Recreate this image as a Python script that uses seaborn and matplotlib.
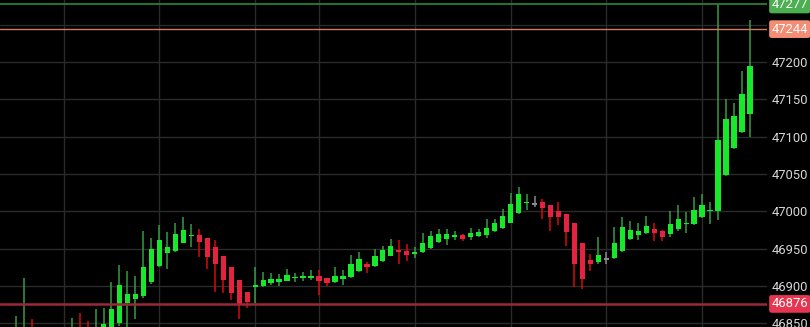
import numpy as np
import pandas as pd
import matplotlib
matplotlib.use("Agg")
import matplotlib.pyplot as plt
import matplotlib.transforms as mtransforms
import seaborn as sns

# ---- data ----
opens = [46815, 46820, 46838, 46822, 46812, 46825, 46818, 46825, 46838, 46822,
         46815, 46830, 46832, 46850, 46877, 46882, 46886, 46905, 46927, 46944,
         46947, 46958, 46967, 46968, 46964, 46952, 46940, 46925, 46908, 46892,
         46898, 46900, 46904, 46906, 46907, 46911, 46911, 46911, 46913, 46911,
         46906, 46909, 46912, 46920, 46929, 46927, 46933, 46940, 46948, 46947,
         46944, 46945, 46951, 46959, 46963, 46966, 46968, 46966, 46967, 46968,
         46973, 46978, 46985, 46998, 47011, 47010, 47012, 47008, 47001, 46997,
         46985, 46958, 46935, 46932, 46936, 46937, 46947, 46963, 46968, 46971,
         46976, 46974, 46970, 46976, 46983, 46983, 46992, 47000, 47000, 47048,
         47085, 47106, 47131]
highs = [46860, 46911, 46856, 46840, 46838, 46842, 46840, 46857, 46864, 46853,
         46869, 46870, 46905, 46928, 46920, 46913, 46973, 46964, 46982, 46972,
         46985, 46993, 46983, 46977, 46964, 46961, 46940, 46925, 46908, 46892,
         46926, 46919, 46918, 46916, 46923, 46918, 46919, 46921, 46922, 46911,
         46925, 46921, 46941, 46946, 46932, 46950, 46954, 46963, 46962, 46956,
         46952, 46971, 46974, 46976, 46976, 46974, 46970, 46978, 46976, 46990,
         46990, 47003, 47025, 47032, 47023, 47020, 47017, 47008, 47012, 46997,
         46985, 46958, 46943, 46965, 46945, 46979, 46992, 46987, 46985, 46994,
         46985, 46975, 47000, 47008, 46999, 47019, 47023, 47012, 47277, 47150,
         47145, 47188, 47256]
lows = [46800, 46805, 46815, 46800, 46795, 46805, 46800, 46810, 46815, 46808,
        46805, 46815, 46825, 46847, 46840, 46856, 46884, 46903, 46925, 46923,
        46946, 46957, 46952, 46939, 46923, 46892, 46891, 46881, 46856, 46870,
        46877, 46899, 46901, 46900, 46907, 46905, 46907, 46908, 46888, 46900,
        46904, 46902, 46911, 46919, 46917, 46926, 46932, 46940, 46929, 46933,
        46937, 46944, 46950, 46958, 46955, 46961, 46960, 46962, 46966, 46964,
        46972, 46977, 46984, 46997, 47002, 47006, 46990, 46974, 46982, 46954,
        46898, 46896, 46920, 46929, 46929, 46936, 46946, 46961, 46961, 46970,
        46960, 46960, 46965, 46973, 46971, 46982, 46991, 46983, 46989, 47047,
        47084, 47105, 47099]
closes = [46830, 46838, 46822, 46812, 46825, 46818, 46830, 46838, 46822, 46815,
          46835, 46849, 46869, 46901, 46889, 46889, 46925, 46950, 46962, 46952,
          46970, 46975, 46968, 46959, 46939, 46929, 46908, 46891, 46875, 46879,
          46901, 46908, 46909, 46909, 46915, 46912, 46913, 46914, 46907, 46904,
          46913, 46914, 46929, 46936, 46926, 46940, 46948, 46954, 46945, 46941,
          46945, 46958, 46967, 46970, 46970, 46968, 46963, 46971, 46972, 46978,
          46984, 46994, 47010, 47023, 47013, 47010, 47005, 46993, 46992, 46972,
          46930, 46910, 46930, 46942, 46936, 46958, 46979, 46975, 46974, 46981,
          46971, 46966, 46983, 46990, 46985, 47002, 47008, 47002, 47096, 47123,
          47128, 47157, 47195]

ytick_values = [46850, 46900, 46950, 47000, 47050, 47100, 47150, 47200, 47250]
vgrid_positions = [6, 18, 30, 38, 50, 62, 74, 86]
marker_prices = [47277, 47244, 46876]
marker_labels = ["47277", "47244", "46876"]

# ---- styling ----
W, H = 810, 327
sns.set_theme(style="dark", rc={"axes.facecolor": "black",
                                "figure.facecolor": "black"})
plt.rcParams["font.family"] = ["Roboto", "DejaVu Sans"]

GREEN_BODY = "#17E82A"
GREEN_WICK = "#3A9A45"
RED_BODY = "#E5223F"
RED_WICK = "#D90A0A"
GRAY = "#8A8A8A"

df = pd.DataFrame({"open": opens, "high": highs, "low": lows, "close": closes})
df["idx"] = np.arange(len(df))
diff = df["close"] - df["open"]
df["body_col"] = np.where(diff > 0, GREEN_BODY, np.where(diff < 0, RED_BODY, GRAY))
df["wick_col"] = np.where(diff > 0, GREEN_WICK, np.where(diff < 0, RED_WICK, GRAY))
min_h = 2.0
raw_h = diff.abs()
df["body_h"] = np.maximum(raw_h, min_h)
df["body_b"] = np.minimum(df["open"], df["close"]) - (df["body_h"] - raw_h) / 2

fig = plt.figure(figsize=(W / 100, H / 100), dpi=100, facecolor="black")
ax_right = 767 / W
ax = fig.add_axes([0, 0, ax_right, 1])
ax.set_facecolor("black")

ax.vlines(df["idx"], df["low"], df["high"], colors=df["wick_col"],
          linewidth=1.1, zorder=3)
ax.bar(df["idx"], df["body_h"], bottom=df["body_b"], width=0.66,
       color=df["body_col"], linewidth=0, zorder=4)

ax.set_xlim(-1.97, 94.13)
ax.set_ylim(46845.1, 47283.0)

ax.set_yticks(ytick_values)
ax.set_xticks(vgrid_positions)
ax.grid(True, color="#2b2b2b", linewidth=1.0, zorder=0)
ax.set_axisbelow(True)
ax.yaxis.tick_right()
ax.tick_params(axis="y", length=0, pad=3.6, labelsize=9.4, labelcolor="#d6d6d6")
ax.tick_params(axis="x", length=0, labelbottom=False)
for s in ax.spines.values():
    s.set_visible(False)

line_cols = ["#2F7A33", "#D27A66", "#9A2838"]
line_w = [1.3, 1.0, 1.8]
box_cols = ["#4CAF50", "#F38D74", "#E8354F"]
for p, c, lw in zip(marker_prices, line_cols, line_w):
    ax.axhline(p, color=c, linewidth=lw, zorder=5)

trans = mtransforms.blended_transform_factory(fig.transFigure, ax.transData)
for p, lab, bc in zip(marker_prices, marker_labels, box_cols):
    ax.text(771.5 / W, p, lab, transform=trans, ha="left", va="center",
            color="white", fontsize=9.4, clip_on=False, zorder=10,
            bbox=dict(boxstyle="round,pad=0.18", fc=bc, ec="none"))

fig.savefig("out.png", dpi=100, facecolor="black")
